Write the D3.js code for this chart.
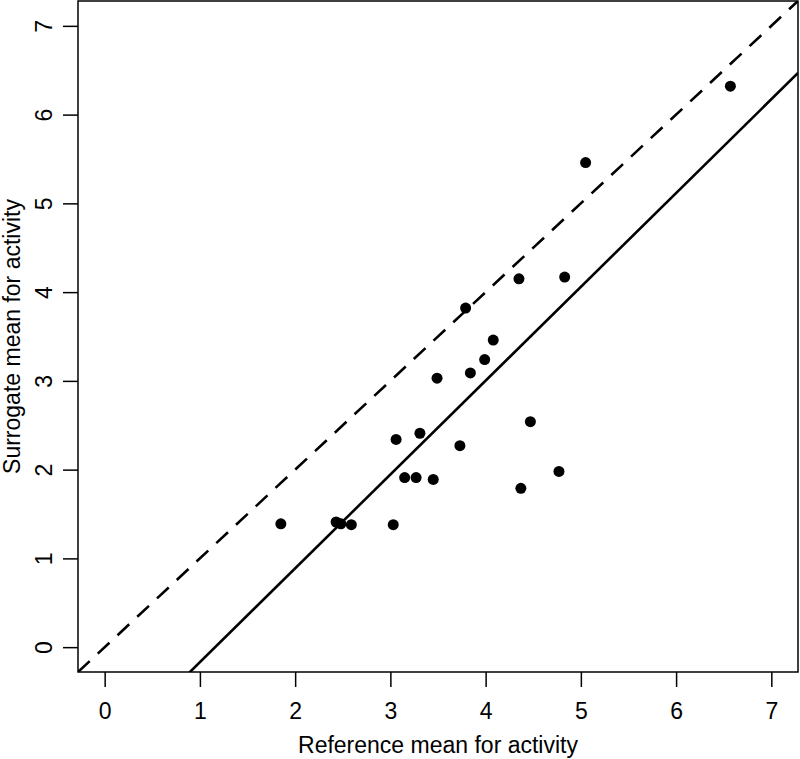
<!DOCTYPE html>
<meta charset="utf-8">
<style>
  body { margin: 0; background: #fff; }
  text { font-family: "Liberation Sans", Arial, sans-serif; fill: #000; }
</style>
<body>
<div id="chart"></div>
<script src="https://d3js.org/d3.v7.min.js"></script>
<script>

// reference means (x) and surrogate means (y) for each activity
var refMean = [1.85, 2.43, 2.48, 2.59, 3.03, 3.06, 3.31, 3.15, 3.27, 3.45, 3.49, 3.73,
               3.79, 3.84, 3.99, 4.08, 4.35, 4.37, 4.47, 4.77, 4.83, 5.05, 6.57];
var surMean = [1.39, 1.41, 1.39, 1.38, 1.38, 2.34, 2.41, 1.91, 1.91, 1.89, 3.03, 2.27,
               3.82, 3.09, 3.24, 3.46, 4.15, 1.79, 2.54, 1.98, 4.17, 5.46, 6.32];

var xTicks = [0, 1, 2, 3, 4, 5, 6, 7];
var yTicks = [0, 1, 2, 3, 4, 5, 6, 7];

// identity line (dashed) and fitted line (solid): intercept, slope
var identityLine = [0, 1];
var fitLine = [-1.226, 1.057];

var margin = {top: 1, right: 2, bottom: 87, left: 78},
    width = 800 - margin.left - margin.right,
    height = 759 - margin.top - margin.bottom;

var fontSize = "23px";

var svg = d3.select("#chart")
  .append("svg")
    .attr("width", 800)
    .attr("height", 759)
  .append("g")
    .attr("transform", "translate(" + margin.left + "," + margin.top + ")");

// R style 4% padding around 0..7
var lo = -0.28, hi = 7.28;
var x = d3.scaleLinear().domain([lo, hi]).range([0, width]);
var y = d3.scaleLinear().domain([lo, hi]).range([height, 0]);

svg.append("defs").append("clipPath").attr("id", "clip")
  .append("rect").attr("width", width).attr("height", height);

var xAxis = svg.append("g")
  .attr("transform", "translate(0," + height + ")")
  .call(d3.axisBottom(x).tickValues(xTicks).tickSize(15).tickPadding(16).tickFormat(d3.format("d")));
xAxis.select(".domain").remove();
xAxis.selectAll("line").attr("stroke", "#000").attr("stroke-width", 1.5);
xAxis.selectAll("text").style("font-size", fontSize).attr("font-family", null);

var yAxis = svg.append("g")
  .call(d3.axisLeft(y).tickValues(yTicks).tickSize(15).tickFormat(d3.format("d")));
yAxis.select(".domain").remove();
yAxis.selectAll("line").attr("stroke", "#000").attr("stroke-width", 1.5);
yAxis.selectAll("text")
  .attr("x", null).attr("dy", null)
  .attr("text-anchor", "middle")
  .attr("transform", "translate(-26,0) rotate(-90)")
  .style("font-size", fontSize).attr("font-family", null);

// frame
svg.append("rect")
  .attr("width", width).attr("height", height)
  .attr("fill", "none").attr("stroke", "#000").attr("stroke-width", 1.5);

var lines = svg.append("g").attr("clip-path", "url(#clip)");
function abline(coef) {
  return [[lo, coef[0] + coef[1] * lo], [hi, coef[0] + coef[1] * hi]];
}
var lineGen = d3.line().x(function(d) { return x(d[0]); }).y(function(d) { return y(d[1]); });

lines.append("path")
  .attr("d", lineGen(abline(identityLine)))
  .attr("fill", "none").attr("stroke", "#000").attr("stroke-width", 2.6)
  .attr("stroke-dasharray", "16,11");
lines.append("path")
  .attr("d", lineGen(abline(fitLine)))
  .attr("fill", "none").attr("stroke", "#000").attr("stroke-width", 2.6);

svg.selectAll("circle.pt")
  .data(refMean)
  .enter().append("circle")
    .attr("class", "pt")
    .attr("cx", function(d) { return x(d); })
    .attr("cy", function(d, i) { return y(surMean[i]); })
    .attr("r", 5.5)
    .attr("fill", "#000");

svg.append("text")
  .attr("x", width / 2).attr("y", height + 81)
  .attr("text-anchor", "middle")
  .style("font-size", fontSize)
  .text("Reference mean for activity");

svg.append("text")
  .attr("transform", "translate(" + (20 - margin.left) + "," + (height / 2) + ") rotate(-90)")
  .attr("text-anchor", "middle")
  .style("font-size", fontSize)
  .text("Surrogate mean for activity");

</script>
</body>
